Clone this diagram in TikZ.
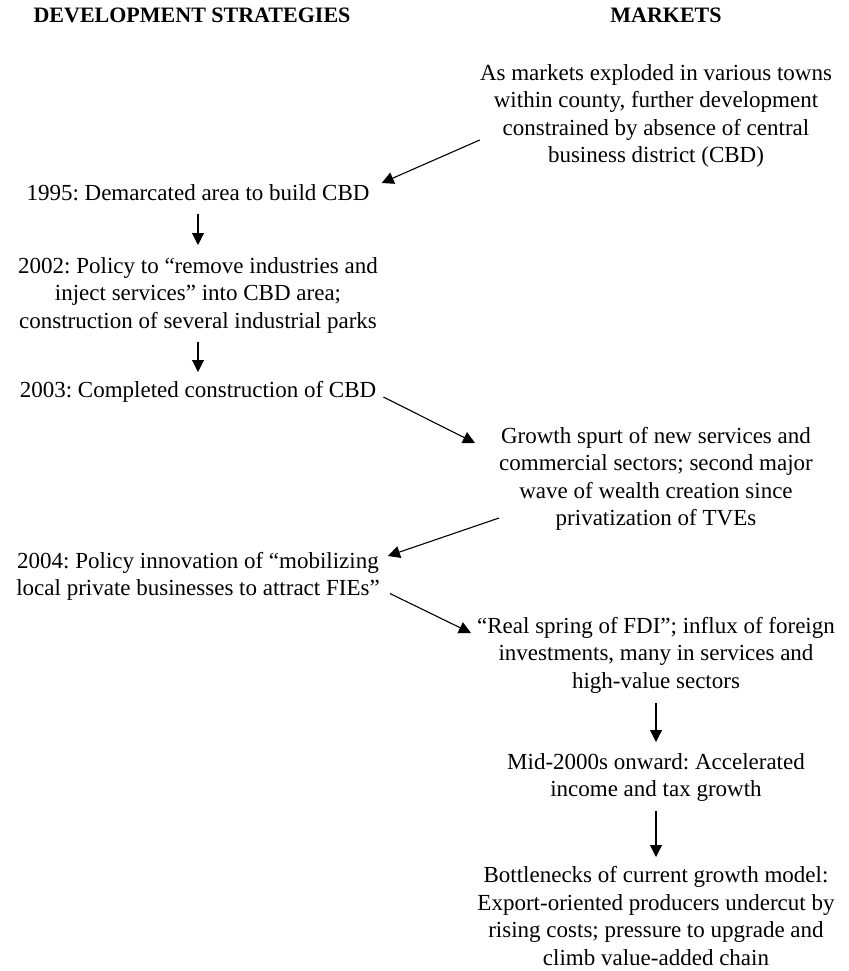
\documentclass[tikz,border=0pt]{standalone}
\usepackage{fontspec}
\setmainfont{Liberation Serif}
\usetikzlibrary{arrows.meta}
\frenchspacing
\begin{document}
\begin{tikzpicture}[x=1pt,y=-1pt,
  txt/.style={align=center,inner sep=0pt,anchor=base,font=\fontsize{23}{27.5}\selectfont},
  head/.style={inner sep=0pt,anchor=base,font=\fontsize{22}{27.5}\selectfont\bfseries},
  flow/.style={line width=1.1pt,-{Triangle[length=12pt,width=12pt]}}]
\useasboundingbox (0,0) rectangle (848,971);
% column headings
\node[head] (hdev) at (192,23) {DEVELOPMENT STRATEGIES};
\node[head] (hmkt) at (666,23) {MARKETS};
% markets column (each node sits on the baseline of its last line)
\node[txt] (m1) at (656,162.5) {As markets exploded in various towns\\within county, further development\\constrained by absence of central\\business district (CBD)};
\node[txt] (m2) at (656,525.5) {Growth spurt of new services and\\commercial sectors; second major\\wave of wealth creation since\\privatization of TVEs};
\node[txt] (m3) at (656,688) {“Real spring of FDI”; influx of foreign\\investments, many in services and\\high-value sectors};
\node[txt] (m4) at (656,796.5) {Mid-2000s onward: Accelerated\\income and tax growth};
\node[txt] (m5) at (656,965) {Bottlenecks of current growth model:\\Export-oriented producers undercut by\\rising costs; pressure to upgrade and\\climb value-added chain};
% strategies column
\node[txt] (s95) at (198,200) {1995: Demarcated area to build CBD};
\node[txt] (s02) at (198,328) {2002: Policy to “remove industries and\\inject services” into CBD area;\\construction of several industrial parks};
\node[txt] (s03) at (198,397) {2003: Completed construction of CBD};
\node[txt] (s04) at (198,595.5) {2004: Policy innovation of “mobilizing\\local private businesses to attract FIEs”};
% links
\draw[flow] ([shift={(0,-22.5)}]m1.base west) -- ([shift={(12,-17)}]s95.base east);
\draw[flow] ([shift={(0,14)}]s95.base) -- ([shift={(0,-83)}]s02.base);
\draw[flow] ([shift={(0,14)}]s02.base) -- ([shift={(0,-25)}]s03.base);
\draw[flow] ([shift={(7,0)}]s03.base east) -- ([shift={(-24,-82.5)}]m2.base west);
\draw[flow] ([shift={(0,-7.5)}]m2.base west) -- ([shift={(8,-39.5)}]s04.base east);
\draw[flow] ([shift={(10,-2)}]s04.base east) -- ([shift={(-6,-55)}]m3.base west);
\draw[flow] ([shift={(0,15)}]m3.base) -- ([shift={(0,-54.5)}]m4.base);
\draw[flow] ([shift={(0,14.5)}]m4.base) -- ([shift={(0,-108)}]m5.base);
\end{tikzpicture}
\end{document}
